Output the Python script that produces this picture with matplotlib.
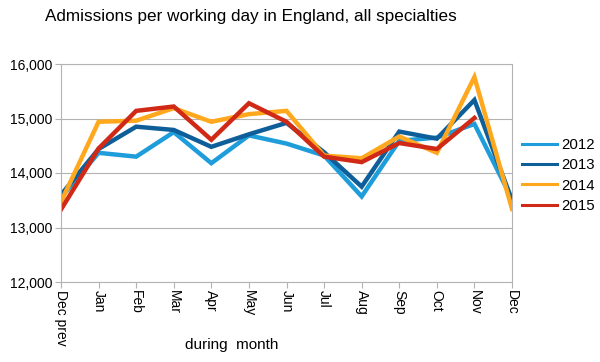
import matplotlib
matplotlib.use("Agg")
import matplotlib.pyplot as plt
from matplotlib.ticker import FuncFormatter

months = ["Dec prev", "Jan", "Feb", "Mar", "Apr", "May", "Jun", "Jul",
          "Aug", "Sep", "Oct", "Nov", "Dec"]
y2012 = [13550, 14370, 14300, 14750, 14180, 14690, 14540, 14320, 13570, 14590, 14650, 14900, 13520]
y2013 = [13600, 14440, 14850, 14790, 14480, 14710, 14920, 14380, 13750, 14760, 14630, 15340, 13500]
y2014 = [13470, 14940, 14960, 15190, 14940, 15080, 15140, 14320, 14270, 14670, 14370, 15760, 13340]
y2015 = [13330, 14450, 15140, 15220, 14610, 15280, 14940, 14300, 14200, 14550, 14440, 15010]

series = [("2012", y2012, "#1f9ddb"), ("2013", y2013, "#0e5f99"),
          ("2014", y2014, "#ffa81e"), ("2015", y2015, "#d02a16")]

plt.rcParams['font.family'] = ['Liberation Sans', 'DejaVu Sans']
fig = plt.figure(figsize=(6.0, 3.62), dpi=100)
ax = fig.add_axes([61/600, 1-282/362, (512-61)/600, (282-64)/362])

x = list(range(len(months)))
handles = []
for name, ys, c in series:
    ax.plot(x[:len(ys)], ys, color=c, lw=3.2, solid_joinstyle='miter')
    h, = ax.plot([], [], color=c, lw=2.2, label=name)
    handles.append(h)

ax.set_xlim(0, len(months)-1)
ax.set_ylim(12000, 16000)
ax.set_yticks([12000, 13000, 14000, 15000, 16000])
ax.yaxis.set_major_formatter(FuncFormatter(lambda v, p: f"{int(v):,}"))
ax.set_xticks(x)
ax.set_xticklabels(months, rotation=-90, fontsize=10)
ax.tick_params(axis='y', labelsize=10, length=4, color="#b3b3b3", pad=2)
ax.tick_params(axis='x', length=4, color="#b3b3b3", pad=2)
ax.grid(axis='y', color="#b3b3b3", lw=0.8)
ax.grid(axis='x', visible=False)
for s in ax.spines.values():
    s.set_color("#b3b3b3")
    s.set_linewidth(0.8)
ax.set_axisbelow(True)

fig.text(232/600, 1-345/362, "during  month", ha='center', va='center', fontsize=11)

fig.text(251/600, 1-17/362, "Admissions per working day in England, all specialties",
         ha='center', va='center', fontsize=12.3)

fig.legend(handles=handles, loc='center left', bbox_to_anchor=(522/600, 1-175.5/362),
           bbox_transform=fig.transFigure, frameon=False, borderpad=0, borderaxespad=0,
           fontsize=10.8, handlelength=2.3, labelspacing=0.42, handletextpad=0.3)

fig.savefig("out.png", dpi=100)
